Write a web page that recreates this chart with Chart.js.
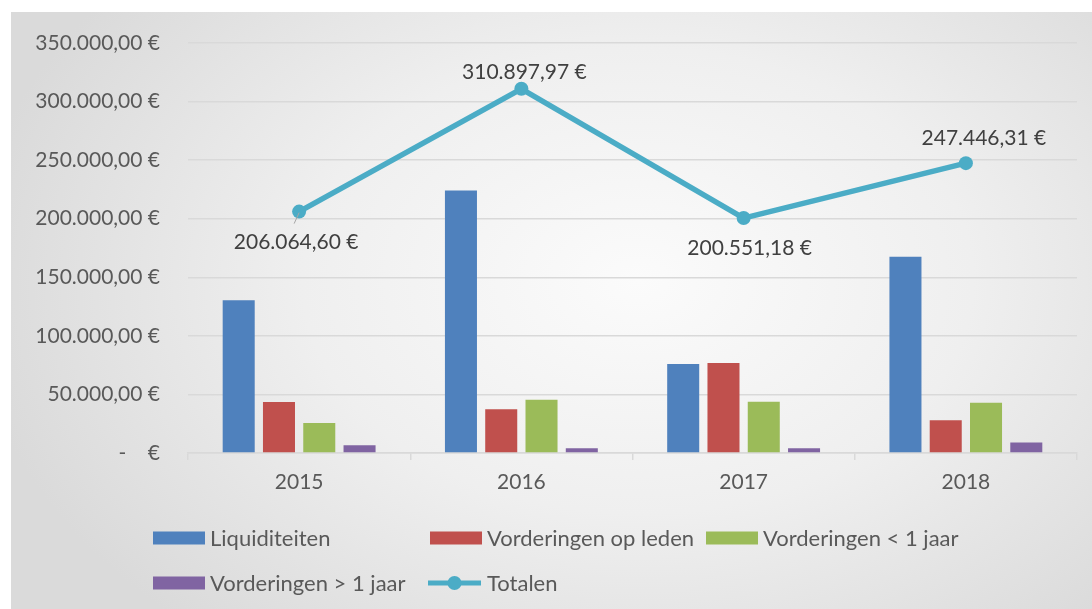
<!DOCTYPE html>
<html>
<head>
<meta charset="utf-8">
<script src="https://cdn.jsdelivr.net/npm/chart.js@4"></script>
<style>
  html, body { margin:0; padding:0; background:#ffffff; width:1092px; height:609px; overflow:hidden; }
  #bg { position:absolute; left:11px; top:12px; width:1081px; height:597px;
        background: radial-gradient(ellipse 62% 78% at 58% 45%, #fbfbfb 0%, #efefef 50%, #dadada 100%); }
  #c { position:absolute; left:0; top:0; }
</style>
</head>
<body>
<div id="bg"></div>
<canvas id="c" width="1092" height="609"></canvas>
<script>
// ---- data ----
const categories = ['2015', '2016', '2017', '2018'];
const liquiditeiten = [130300, 224000, 76000, 167600];
const vorderingenOpLeden = [43500, 37400, 76800, 27900];
const vorderingenKort = [25700, 45400, 43800, 43000];
const vorderingenLang = [6565, 4100, 3950, 8950];
const totalen = [206064.60, 310897.97, 200551.18, 247446.31];
const seriesNames = ['Liquiditeiten', 'Vorderingen op leden', 'Vorderingen < 1 jaar', 'Vorderingen > 1 jaar', 'Totalen'];
const yMax = 350000;
const yStep = 50000;

// ---- styling ----
const FONT = 'Lato, "Open Sans", sans-serif';
const TEXT = '#595959';
const colors = ['#4F81BD', '#C0504D', '#9BBB59', '#8064A2', '#4BACC6'];
// data label offsets (px) relative to each point: [dx, dy of cap centre]
const labelOffsets = [[-3, 30], [3, -17.5], [6, 29], [18, -26]];

function euro(v) {
  if (v === 0) return '-    €';
  const parts = Math.abs(v).toFixed(2).split('.');
  return parts[0].replace(/\B(?=(\d{3})+(?!\d))/g, '.') + ',' + parts[1] + ' €';
}

const dataLabelPlugin = {
  id: 'dataLabels',
  afterDatasetsDraw(chart) {
    const ctx = chart.ctx;
    const idx = chart.data.datasets.findIndex(d => d.type === 'line');
    const meta = chart.getDatasetMeta(idx);
    ctx.save();
    ctx.font = '21px ' + FONT;
    ctx.fillStyle = '#404040';
    ctx.textAlign = 'center';
    ctx.textBaseline = 'alphabetic';
    meta.data.forEach((pt, i) => {
      const off = labelOffsets[i];
      const x = pt.x + off[0];
      const y = pt.y + off[1];
      if (i === 0) {
        ctx.strokeStyle = '#a6a6a6';
        ctx.lineWidth = 1;
        ctx.beginPath();
        ctx.moveTo(pt.x, pt.y + 1);
        ctx.lineTo(pt.x - 5, pt.y + 12);
        ctx.stroke();
      }
      ctx.fillText(euro(chart.data.datasets[idx].data[i]), x, y + 7.5);
    });
    ctx.restore();
  }
};

const legendPlugin = {
  id: 'customLegend',
  afterDraw(chart) {
    const ctx = chart.ctx;
    const colX = [153, 430, 706];
    const rowY = [538, 583];
    ctx.save();
    ctx.font = '22px ' + FONT;
    ctx.textBaseline = 'alphabetic';
    ctx.textAlign = 'left';
    chart.data.datasets.forEach((ds, i) => {
      const x = colX[i % 3];
      const y = rowY[Math.floor(i / 3)];
      if (ds.type === 'line') {
        ctx.strokeStyle = ds.borderColor;
        ctx.lineWidth = 5;
        ctx.beginPath();
        ctx.moveTo(x - 2, y);
        ctx.lineTo(x + 51, y);
        ctx.stroke();
        ctx.fillStyle = ds.borderColor;
        ctx.beginPath();
        ctx.arc(x + 24.5, y, 7, 0, Math.PI * 2);
        ctx.fill();
      } else {
        ctx.fillStyle = ds.backgroundColor;
        ctx.fillRect(x, y - 6.5, 52, 13);
      }
      ctx.fillStyle = TEXT;
      ctx.fillText(ds.label, x + 57, y + 8);
    });
    ctx.restore();
  }
};

const barSeries = [liquiditeiten, vorderingenOpLeden, vorderingenKort, vorderingenLang];
const datasets = barSeries.map((arr, i) => ({
  type: 'bar',
  label: seriesNames[i],
  data: arr,
  backgroundColor: colors[i],
  borderWidth: 0,
  order: 1,
  categoryPercentage: 0.725,
  barPercentage: 0.795
}));
datasets.push({
  type: 'line',
  label: seriesNames[4],
  data: totalen,
  borderColor: colors[4],
  backgroundColor: colors[4],
  borderWidth: 5.5,
  pointRadius: 7,
  pointHoverRadius: 7,
  pointBackgroundColor: colors[4],
  pointBorderWidth: 0,
  tension: 0,
  order: 0
});

new Chart(document.getElementById('c'), {
  data: { labels: categories, datasets },
  options: {
    responsive: false,
    animation: false,
    devicePixelRatio: 1,
    layout: { padding: { left: 0, top: 43, right: 15, bottom: 106 } },
    plugins: { legend: { display: false }, tooltip: { enabled: false } },
    scales: {
      x: {
        offset: true,
        grid: { display: true, drawOnChartArea: false, drawTicks: true, tickLength: 7, color: '#d9d9d9', lineWidth: 1.5, offset: true },
        border: { display: true, color: '#d9d9d9', width: 1.5 },
        ticks: { color: TEXT, font: { family: FONT, size: 21 }, padding: 10 },
        afterFit(axis) { axis.height = 50; }
      },
      y: {
        min: 0,
        max: yMax,
        ticks: { stepSize: yStep, color: TEXT, font: { family: FONT, size: 21 }, padding: 28, callback: (v) => euro(v) },
        grid: { color: '#d9d9d9', lineWidth: 1.5, drawTicks: false },
        border: { display: false },
        afterFit(axis) { axis.width = 188; }
      }
    }
  },
  plugins: [dataLabelPlugin, legendPlugin]
});
</script>
</body>
</html>
